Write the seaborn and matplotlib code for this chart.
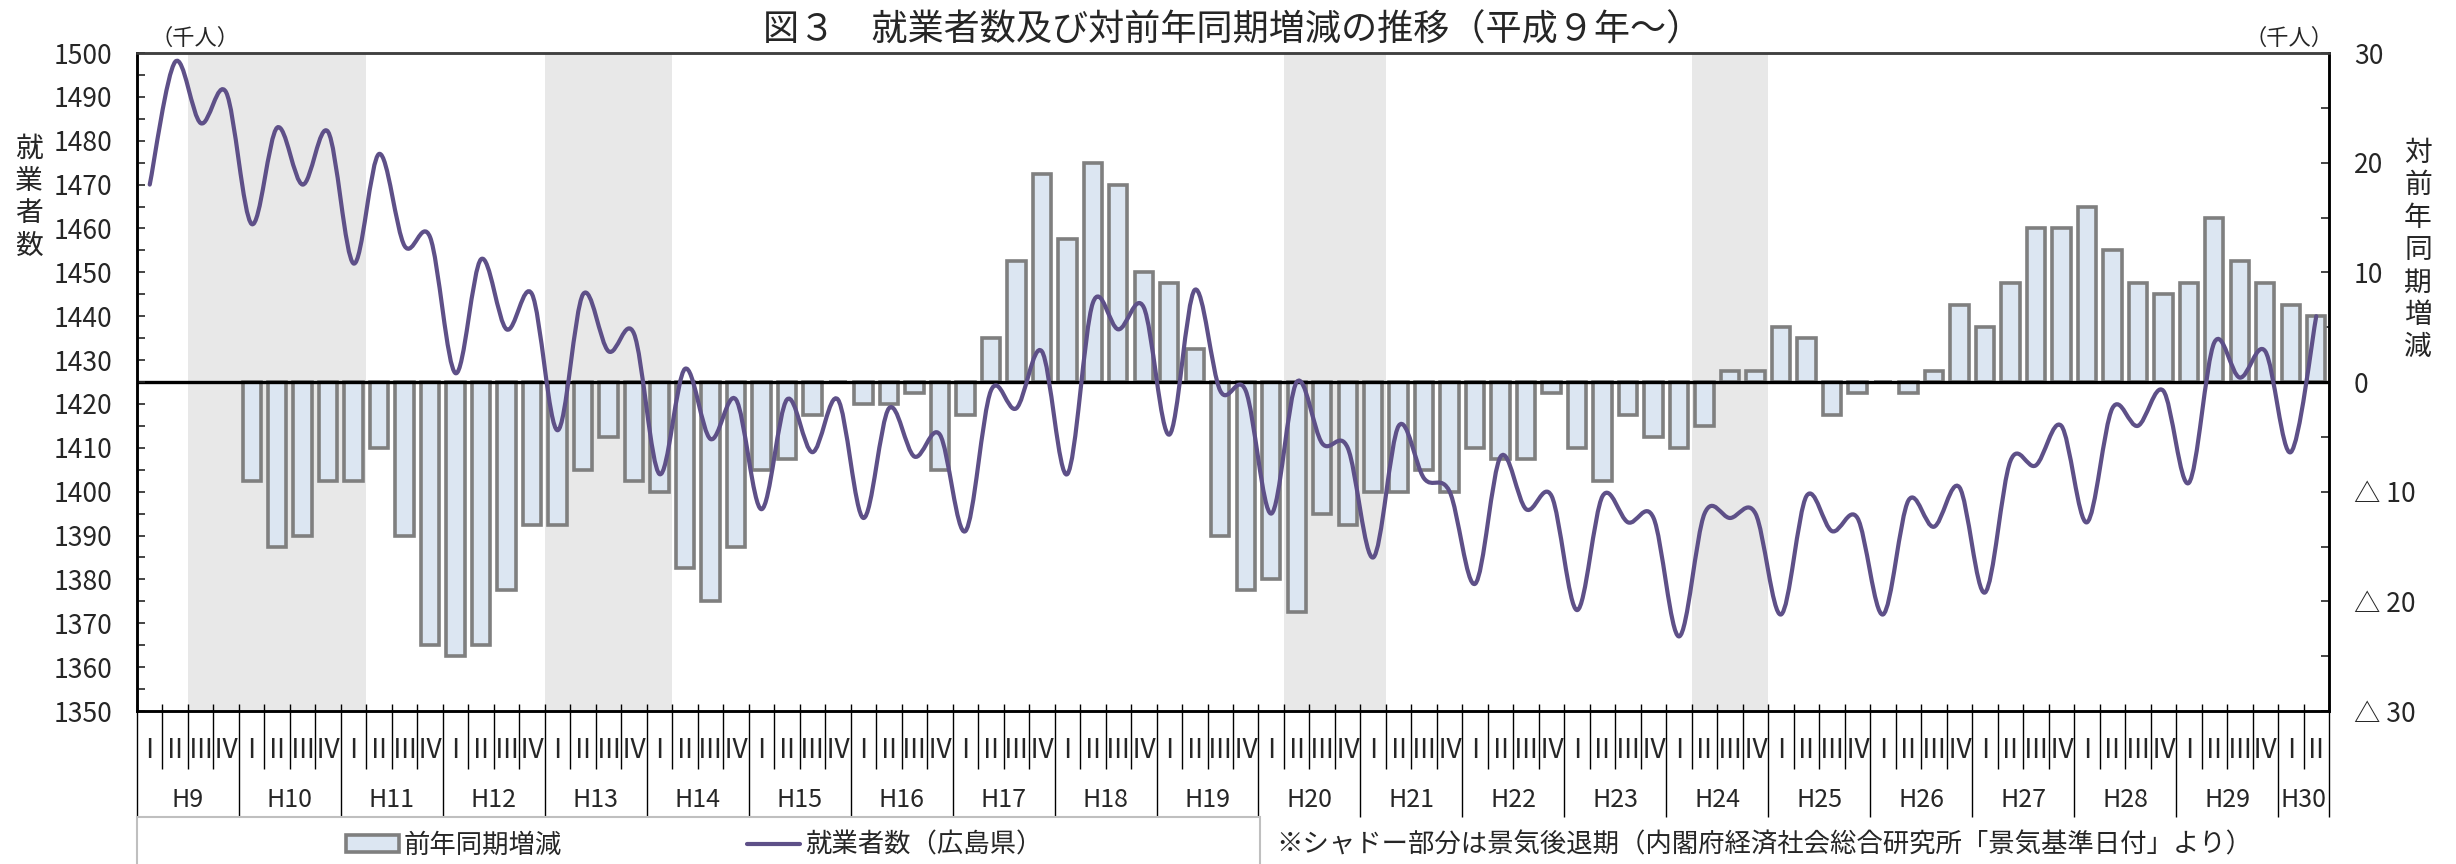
import numpy as np
import pandas as pd
import matplotlib
matplotlib.use('Agg')
import matplotlib.pyplot as plt
import matplotlib.patches as mpatches
from matplotlib.path import Path
from matplotlib.lines import Line2D
import seaborn as sns

# quarterly data, H9 Q1 .. H30 Q2 (thousand persons)
years = ['H9', 'H10', 'H11', 'H12', 'H13', 'H14', 'H15', 'H16', 'H17', 'H18', 'H19',
         'H20', 'H21', 'H22', 'H23', 'H24', 'H25', 'H26', 'H27', 'H28', 'H29', 'H30']
quarters = ['Ⅰ', 'Ⅱ', 'Ⅲ', 'Ⅳ']

employed = [1470, 1498, 1484, 1491, 1461, 1483, 1470, 1482, 1452, 1477,
            1456, 1458, 1427, 1453, 1437, 1445, 1414, 1445, 1432, 1436,
            1404, 1428, 1412, 1421, 1396, 1421, 1409, 1421, 1394, 1419,
            1408, 1413, 1391, 1423, 1419, 1432, 1404, 1443, 1437, 1442,
            1413, 1446, 1423, 1423, 1395, 1425, 1411, 1410, 1385, 1415,
            1403, 1400, 1379, 1408, 1396, 1399, 1373, 1399, 1393, 1394,
            1367, 1395, 1394, 1395, 1372, 1399, 1391, 1394, 1372, 1398,
            1392, 1401, 1377, 1407, 1406, 1415, 1393, 1419, 1415, 1423,
            1402, 1434, 1426, 1432, 1409, 1440]

yoy_change = [np.nan, np.nan, np.nan, np.nan,
              -9, -15, -14, -9, -9, -6, -14, -24, -25, -24,
              -19, -13, -13, -8, -5, -9, -10, -17, -20, -15,
              -8, -7, -3, 0, -2, -2, -1, -8, -3, 4,
              11, 19, 13, 20, 18, 10, 9, 3, -14, -19,
              -18, -21, -12, -13, -10, -10, -8, -10, -6, -7,
              -7, -1, -6, -9, -3, -5, -6, -4, 1, 1,
              5, 4, -3, -1, 0, -1, 1, 7, 5, 9,
              14, 14, 16, 12, 9, 8, 9, 15, 11, 9,
              7, 6]

# recession periods: first and last quarter index (shaded)
recessions = [(2, 8), (16, 20), (45, 48), (61, 63)]

right_labels = ['△ 30', '△ 20', '△ 10', '0', '10', '20', '30']

title = '図３　就業者数及び対前年同期増減の推移（平成９年～）'
note = '※シャドー部分は景気後退期（内閣府経済社会総合研究所「景気基準日付」より）'

n = len(employed)
pos = np.arange(n)

sns.set_theme(style='white')
plt.rcParams['font.family'] = ['Noto Sans CJK JP', 'DejaVu Sans']

line_color = '#5E5088'
bar_face = '#DCE6F2'
bar_edge = '#7F7F7F'

W, H = 2456, 864
fig = plt.figure(figsize=(W / 100, H / 100), dpi=100)
ax = fig.add_axes([137 / W, 1 - 711 / H, 2192 / W, 658 / H])
ax2 = ax.twinx()

# shading + bars on the right axis
for a, b in recessions:
    ax2.axvspan(a - 0.5, b + 0.5, color='#E8E8E8', lw=0, zorder=0)

df = pd.DataFrame({'pos': pos, 'change': yoy_change})
sns.barplot(data=df, x='pos', y='change', ax=ax2, native_scale=True, width=0.72,
            color=bar_face, edgecolor=bar_edge, linewidth=2.6, saturation=1,
            errorbar=None, zorder=2)
ax2.axhline(0, color='black', lw=2.4, zorder=3)

# smoothed line (bezier through the points, like a spreadsheet "smooth line")
pts = np.column_stack([pos, employed]).astype(float)
verts = [pts[0]]
codes = [Path.MOVETO]
for k in range(n - 1):
    p0 = pts[k - 1] if k > 0 else pts[k]
    p1, p2 = pts[k], pts[k + 1]
    p3 = pts[k + 2] if k + 2 < n else pts[k + 1]
    verts += [p1 + (p2 - p0) / 6, p2 - (p3 - p1) / 6, p2]
    codes += [Path.CURVE4] * 3
ax.add_patch(mpatches.PathPatch(Path(verts, codes), fill=False, edgecolor=line_color,
                                lw=3.0, capstyle='round', joinstyle='round'))

ax.set_zorder(ax2.get_zorder() + 1)
ax.patch.set_visible(False)

ax.set_xlim(-0.5, n - 0.5)
ax2.set_xlim(-0.5, n - 0.5)
ax.set_ylim(1350, 1500)
ax2.set_ylim(-30, 30)

ax.set_yticks(np.arange(1350, 1501, 10))
ax.set_yticks(np.arange(1355, 1500, 10), minor=True)
ax.tick_params(axis='y', which='both', direction='in', length=6, width=1.2,
               labelsize=19, pad=18, left=True, right=False)
ax2.set_yticks(np.arange(-30, 31, 10))
ax2.set_yticklabels(right_labels)
ax2.set_yticks(np.arange(-25, 30, 10), minor=True)
ax2.tick_params(axis='y', which='both', direction='in', length=6, width=1.2,
                labelsize=19, pad=18, right=True, left=False)
for a in (ax, ax2):
    a.tick_params(axis='x', which='both', bottom=False, top=False, labelbottom=False)
    a.set_xlabel('')
    a.set_ylabel('')
    a.grid(False)
    for s in ['left', 'right', 'bottom']:
        a.spines[s].set_color('black')
        a.spines[s].set_linewidth(1.8)
    a.spines['top'].set_color('#404040')
    a.spines['top'].set_linewidth(1.8)

# category table under the axis
xt = ax2.get_xaxis_transform()
bounds = np.arange(-0.5, n, 1.0)
q_bounds = [b for b in bounds if (b + 0.5) % 4 != 0 and b < n - 0.5]
y_bounds = [b for b in bounds if (b + 0.5) % 4 == 0] + [n - 0.5]
ax2.vlines(q_bounds, 7 / 658, -58 / 658, transform=xt, clip_on=False, color='black', lw=1)
ax2.vlines(y_bounds, 7 / 658, -106 / 658, transform=xt, clip_on=False, color='black', lw=1)
for i in range(n):
    ax2.text(i, -39 / 658, quarters[i % 4], transform=xt, ha='center', va='center',
             fontsize=19, clip_on=False)
for j, yl in enumerate(years):
    first = j * 4
    last = min(first + 3, n - 1)
    ax2.text((first + last) / 2, -89 / 658, yl, transform=xt, ha='center', va='center',
             fontsize=18, clip_on=False)

# texts
fig.text(1233 / W, 1 - 31 / H, title, ha='center', va='center', fontsize=26)
fig.text(150 / W, 1 - 38 / H, '（千人）', ha='left', va='center', fontsize=16)
fig.text(2333 / W, 1 - 38 / H, '（千人）', ha='right', va='center', fontsize=16)
fig.text(29 / W, 1 - 197 / H, '\n'.join('就業者数'), ha='center', va='center',
         fontsize=20, linespacing=1.1)
fig.text(2418 / W, 1 - 250 / H, '\n'.join('対前年同期増減'), ha='center', va='center',
         fontsize=20, linespacing=1.1)

# legend box
fig.add_artist(mpatches.Rectangle((137 / W, 1 - 870 / H), (1260 - 137) / W, 53 / H,
                                  transform=fig.transFigure, facecolor='none',
                                  edgecolor='#BFBFBF', lw=1.5))
handles = [mpatches.Rectangle((0, 0), 1, 1, facecolor=bar_face, edgecolor=bar_edge, lw=2.6),
           Line2D([], [], color=line_color, lw=3.0)]
fig.legend(handles, ['前年同期増減', '就業者数（広島県）'], loc='center',
           bbox_to_anchor=(694 / W, 1 - 845 / H), bbox_transform=fig.transFigure,
           ncol=2, frameon=False, fontsize=19, handlelength=2.0, handleheight=0.6,
           columnspacing=7, handletextpad=0.2)
fig.text(1276 / W, 1 - 845 / H, note, ha='left', va='center', fontsize=19)

fig.savefig('out.png', dpi=100)
